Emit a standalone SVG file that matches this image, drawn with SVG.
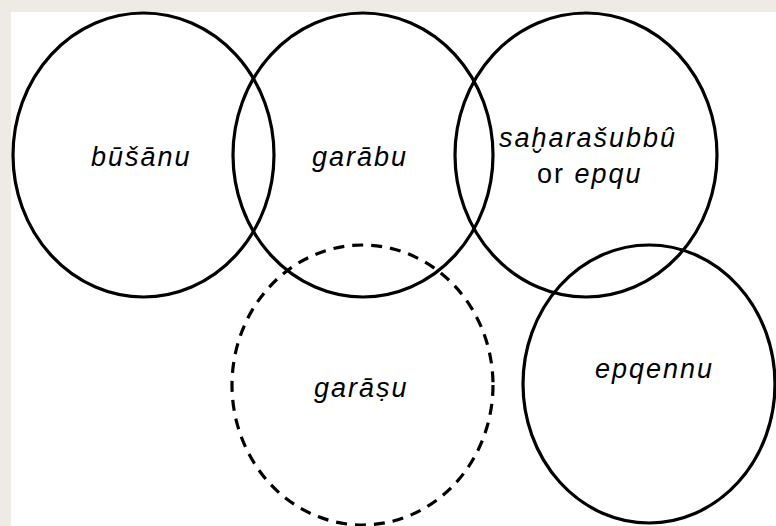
<svg xmlns="http://www.w3.org/2000/svg" width="776" height="526" viewBox="0 0 776 526">
<style>
.c{fill:none;stroke:#000;stroke-width:3.2}
.d{stroke-dasharray:11 8}
.t{font-family:"Liberation Sans",Arial,sans-serif;font-size:27px;font-style:italic;letter-spacing:2px;fill:#000}
.u{font-style:normal}
</style>
<rect x="0" y="0" width="776" height="526" fill="#eeebe4"/>
<rect x="11" y="12" width="765" height="514" fill="#fff"/>
<g id="busanu">
<ellipse class="c" cx="143.5" cy="155" rx="130.5" ry="142"/>
<text class="t" x="91" y="166">būšānu</text>
</g>
<g id="garabu">
<ellipse class="c" cx="363" cy="155" rx="130" ry="142"/>
<text class="t" x="312" y="166">garābu</text>
</g>
<g id="saharasubbu">
<ellipse class="c" cx="586" cy="155" rx="131" ry="142"/>
<text class="t" x="499" y="147">saḫarašubbû</text>
<text class="t" x="537" y="183"><tspan class="u">or</tspan> epqu</text>
</g>
<g id="garasu">
<ellipse class="c d" cx="362.5" cy="385" rx="130.5" ry="140"/>
<text class="t" x="314" y="397">garāṣu</text>
</g>
<g id="epqennu">
<ellipse class="c" cx="649" cy="384" rx="126" ry="139"/>
<text class="t" x="595" y="378">epqennu</text>
</g>
<g id="connectors"></g>
</svg>
